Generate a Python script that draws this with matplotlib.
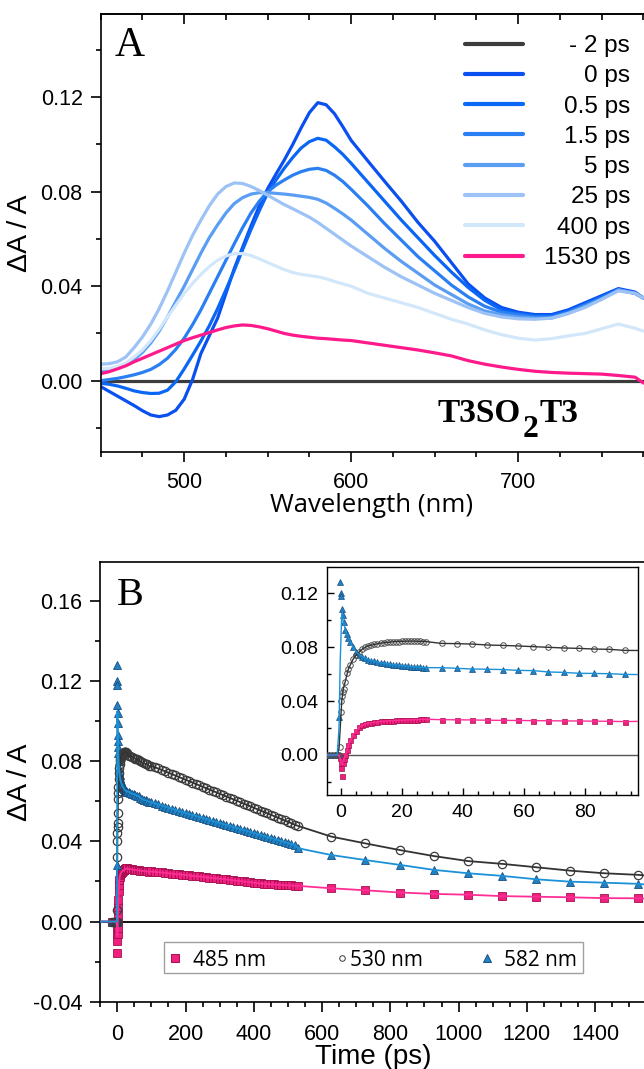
import numpy as np
import matplotlib
matplotlib.use("Agg")
import matplotlib.pyplot as plt
from matplotlib.lines import Line2D
from matplotlib.patches import Rectangle
from matplotlib.ticker import MultipleLocator, FormatStrFormatter

# ---------------- Panel A data (transient spectra) ----------------
wavelength = [450, 455, 460, 465, 470, 475, 480, 485, 490, 495, 500, 505, 510, 515, 520, 525,
              530, 535, 540, 545, 550, 555, 560, 565, 570, 575, 580, 585, 590, 595, 600,
              610, 620, 630, 640, 650, 660, 670, 680, 690, 700, 710, 720, 730, 740, 750,
              760, 770, 775]
delay_labels = ["- 2 ps", "0 ps", "0.5 ps", "1.5 ps", "5 ps", "25 ps", "400 ps", "1530 ps"]
spec_m2 = [0.000] * 49
spec_0 = [-0.0025, -0.0045, -0.0065, -0.0085, -0.0105, -0.0127, -0.0145, -0.0152, -0.0145,
          -0.0125, -0.0078, 0.0005, 0.0115, 0.0190, 0.0265, 0.0370, 0.0475, 0.0565, 0.0655,
          0.0740, 0.0813, 0.0875, 0.0935, 0.1000, 0.1070, 0.1135, 0.1177, 0.1168, 0.1130,
          0.1075, 0.1017,
          0.0930, 0.0844, 0.0760, 0.0670, 0.0590, 0.0500, 0.0410, 0.0350, 0.0310, 0.0290,
          0.0280, 0.0280, 0.0300, 0.0330, 0.0360, 0.0390, 0.0375, 0.0350]
spec_05 = [-0.0011, -0.0015, -0.0022, -0.0032, -0.0043, -0.0050, -0.0054, -0.0053, -0.0040,
           -0.0004, 0.0050, 0.0108, 0.0168, 0.0232, 0.0305, 0.0385, 0.0468, 0.0555, 0.0640,
           0.0720, 0.0795, 0.0850, 0.0900, 0.0945, 0.0985, 0.1012, 0.1026, 0.1018, 0.0990,
           0.0958, 0.0920,
           0.0840, 0.0760, 0.0680, 0.0605, 0.0530, 0.0460, 0.0395, 0.0340, 0.0300, 0.0285,
           0.0275, 0.0275, 0.0295, 0.0325, 0.0355, 0.0385, 0.0370, 0.0350]
spec_15 = [0.0000, 0.0005, 0.0010, 0.0017, 0.0025, 0.0035, 0.0048, 0.0068, 0.0095, 0.0133,
           0.0180, 0.0237, 0.0300, 0.0370, 0.0440, 0.0510, 0.0580, 0.0648, 0.0710, 0.0760,
           0.0800, 0.0828, 0.0850, 0.0870, 0.0885, 0.0895, 0.0899, 0.0890, 0.0870, 0.0843,
           0.0810,
           0.0740, 0.0665, 0.0595, 0.0525, 0.0465, 0.0405, 0.0355, 0.0315, 0.0290, 0.0280,
           0.0270, 0.0270, 0.0290, 0.0320, 0.0350, 0.0385, 0.0370, 0.0350]
spec_5 = [0.0040, 0.0045, 0.0055, 0.0070, 0.0090, 0.0120, 0.0160, 0.0210, 0.0270, 0.0335,
          0.0400, 0.0470, 0.0540, 0.0605, 0.0660, 0.0710, 0.0750, 0.0775, 0.0790, 0.0796,
          0.0796, 0.0793, 0.0790, 0.0786, 0.0781, 0.0776, 0.0768, 0.0752, 0.0730, 0.0706,
          0.0680,
          0.0620, 0.0560, 0.0505, 0.0455, 0.0405, 0.0365, 0.0325, 0.0295, 0.0280, 0.0270,
          0.0265, 0.0265, 0.0285, 0.0315, 0.0345, 0.0385, 0.0370, 0.0350]
spec_25 = [0.0070, 0.0072, 0.0080, 0.0100, 0.0140, 0.0185, 0.0240, 0.0305, 0.0380, 0.0460,
           0.0540, 0.0615, 0.0680, 0.0740, 0.0790, 0.0822, 0.0837, 0.0835, 0.0822, 0.0805,
           0.0785, 0.0765, 0.0745, 0.0728, 0.0710, 0.0692, 0.0670, 0.0645, 0.0620, 0.0595,
           0.0570,
           0.0525, 0.0480, 0.0440, 0.0405, 0.0370, 0.0340, 0.0310, 0.0285, 0.0270, 0.0262,
           0.0260, 0.0265, 0.0285, 0.0310, 0.0345, 0.0380, 0.0370, 0.0350]
spec_400 = [0.0050, 0.0052, 0.0060, 0.0075, 0.0100, 0.0130, 0.0170, 0.0218, 0.0270, 0.0320,
            0.0370, 0.0412, 0.0450, 0.0483, 0.0510, 0.0528, 0.0538, 0.0538, 0.0530, 0.0516,
            0.0500, 0.0485, 0.0470, 0.0458, 0.0450, 0.0445, 0.0440, 0.0432, 0.0420, 0.0410,
            0.0400,
            0.0370, 0.0350, 0.0330, 0.0310, 0.0285, 0.0260, 0.0240, 0.0215, 0.0195, 0.0180,
            0.0172, 0.0178, 0.0190, 0.0200, 0.0220, 0.0240, 0.0222, 0.0210]
spec_1530 = [0.0030, 0.0038, 0.0050, 0.0063, 0.0080, 0.0095, 0.0110, 0.0125, 0.0140, 0.0155,
             0.0170, 0.0182, 0.0193, 0.0204, 0.0215, 0.0225, 0.0232, 0.0236, 0.0234, 0.0228,
             0.0220, 0.0210, 0.0200, 0.0193, 0.0188, 0.0184, 0.0180, 0.0178, 0.0175, 0.0172,
             0.0170,
             0.0160, 0.0150, 0.0140, 0.0130, 0.0118, 0.0105, 0.0085, 0.0070, 0.0058, 0.0048,
             0.0040, 0.0035, 0.0032, 0.0030, 0.0028, 0.0022, 0.0015, -0.0010]
spec_colors = ["#3c3c3c", "#0a4ff0", "#0a66f5", "#2a7ff2", "#5b9df3", "#9cc2f6", "#d3e7fb", "#ff1a8c"]

# ---------------- Panel B data (kinetics) ----------------
t_pre = [-15, -10, -5, -4, -3, -2, -1.5, -1]
t_early = [-0.6, -0.2, 0, 0.2, 0.4, 0.7, 1, 1.5, 2, 2.5, 3, 4, 5, 6, 7, 8, 9, 10, 11, 12,
           13, 14, 15, 16, 17, 18, 19, 20, 21, 22, 23, 24, 25, 26, 27, 28]
t_mid = [33, 38, 43, 48, 53, 58, 63, 68, 73, 78, 83, 88, 93]
t_dense = [100, 110, 120, 130, 140, 150, 160, 170, 180, 190, 200, 210, 220, 230, 240, 250,
           260, 270, 280, 290, 300, 310, 320, 330, 340, 350, 360, 370, 380, 390, 400, 410,
           420, 430, 440, 450, 460, 470, 480, 490, 500, 510, 520, 530]
t_late = [627, 727, 827, 927, 1027, 1127, 1227, 1327, 1427, 1527]

k485_pre = [0.0, 0.0, 0.0, 0.0, 0.0, 0.0, 0.0, 0.0]
k485_early = [0.0, -0.0025, -0.0062, -0.0099, -0.0155, -0.0060, -0.0030, 0.0000, 0.0035, 0.0075,
              0.0110, 0.0150, 0.0180, 0.0205, 0.0220, 0.0230, 0.0235, 0.0240, 0.0243, 0.0246,
              0.0249, 0.0250, 0.0252, 0.0254, 0.0255, 0.0256, 0.0257, 0.0258, 0.0259, 0.0260,
              0.0261, 0.0262, 0.0263, 0.0264, 0.0265, 0.0265]
k485_mid = [0.0262, 0.0261, 0.0260, 0.0258, 0.0257, 0.0256, 0.0255, 0.0254, 0.0253, 0.0252,
            0.0251, 0.0250, 0.0248]
k485_dense = [0.0250, 0.0248, 0.0246, 0.0245, 0.0243, 0.0241, 0.0239, 0.0237, 0.0236, 0.0234,
              0.0232, 0.0230, 0.0228, 0.0226, 0.0225, 0.0223, 0.0221, 0.0219, 0.0218, 0.0216,
              0.0214, 0.0212, 0.0210, 0.0208, 0.0206, 0.0204, 0.0202, 0.0200, 0.0198, 0.0196,
              0.0194, 0.0192, 0.0190, 0.0189, 0.0188, 0.0186, 0.0185, 0.0184, 0.0183, 0.0182,
              0.0181, 0.0180, 0.0179, 0.0178]
k485_late = [0.0166, 0.0156, 0.0145, 0.0138, 0.0134, 0.0127, 0.0124, 0.0121, 0.0117, 0.0116]

k530_pre = [0.0, 0.0, 0.0, 0.0, 0.0, 0.0, 0.0, 0.0]
k530_early = [0.0, 0.0060, 0.0320, 0.0400, 0.0440, 0.0470, 0.0490, 0.0540, 0.0610, 0.0640,
              0.0670, 0.0710, 0.0740, 0.0765, 0.0785, 0.0800, 0.0810, 0.0815, 0.0820, 0.0825,
              0.0830, 0.0832, 0.0835, 0.0837, 0.0840, 0.0841, 0.0842, 0.0843, 0.0844, 0.0845,
              0.0845, 0.0845, 0.0844, 0.0843, 0.0842, 0.0841]
k530_mid = [0.0828, 0.0826, 0.0823, 0.0816, 0.0813, 0.0809, 0.0804, 0.0799, 0.0794, 0.0791,
            0.0786, 0.0784, 0.0776]
k530_dense = [0.0775, 0.0770, 0.0764, 0.0757, 0.0750, 0.0743, 0.0736, 0.0729, 0.0722, 0.0715,
              0.0708, 0.0701, 0.0694, 0.0687, 0.0680, 0.0673, 0.0666, 0.0659, 0.0652, 0.0645,
              0.0638, 0.0631, 0.0624, 0.0617, 0.0610, 0.0603, 0.0596, 0.0589, 0.0582, 0.0575,
              0.0568, 0.0561, 0.0554, 0.0547, 0.0540, 0.0533, 0.0526, 0.0519, 0.0512, 0.0505,
              0.0498, 0.0491, 0.0484, 0.0477]
k530_late = [0.0424, 0.0390, 0.0357, 0.0327, 0.0302, 0.0288, 0.0271, 0.0254, 0.0241, 0.0233]

k582_pre = [0.0, 0.0, 0.0, 0.0, 0.0, 0.0, 0.0, 0.0]
k582_early = [0.0280, 0.1280, 0.1200, 0.1180, 0.1080, 0.1040, 0.0990, 0.0930, 0.0900, 0.0870,
              0.0840, 0.0800, 0.0765, 0.0745, 0.0730, 0.0718, 0.0708, 0.0700, 0.0695, 0.0690,
              0.0685, 0.0680, 0.0677, 0.0674, 0.0671, 0.0668, 0.0665, 0.0663, 0.0660, 0.0658,
              0.0656, 0.0654, 0.0652, 0.0650, 0.0649, 0.0648]
k582_mid = [0.0648, 0.0643, 0.0638, 0.0636, 0.0634, 0.0628, 0.0626, 0.0616, 0.0613, 0.0606,
            0.0605, 0.0603, 0.0598]
k582_dense = [0.0596, 0.0590, 0.0585, 0.0579, 0.0574, 0.0568, 0.0563, 0.0558, 0.0552, 0.0547,
              0.0542, 0.0537, 0.0532, 0.0527, 0.0522, 0.0517, 0.0512, 0.0507, 0.0502, 0.0497,
              0.0492, 0.0487, 0.0482, 0.0477, 0.0472, 0.0467, 0.0462, 0.0457, 0.0452, 0.0447,
              0.0442, 0.0437, 0.0432, 0.0427, 0.0422, 0.0417, 0.0412, 0.0407, 0.0402, 0.0397,
              0.0392, 0.0387, 0.0382, 0.0366]
k582_late = [0.0332, 0.0307, 0.0283, 0.0258, 0.0241, 0.0228, 0.0211, 0.0199, 0.0194, 0.0188]

# fitted curves: early part (before 5 ps), afterwards the fits follow the data; tail value
fit_t_early = [-50, -1.2, -0.6, -0.2, 0.3, 0.8, 1.5, 2.5, 4]
fit485_early = [0.0, 0.0, 0.0, -0.003, -0.007, -0.004, 0.000, 0.0075, 0.0150]
fit530_early = [0.0, 0.0, 0.005, 0.020, 0.040, 0.049, 0.055, 0.064, 0.071]
fit582_early = [0.0, 0.0, 0.020, 0.070, 0.105, 0.099, 0.093, 0.087, 0.080]
fit_t_end = 1560
fit485_end, fit530_end, fit582_end = 0.0114, 0.0228, 0.0183

legendB_labels = ["485 nm", "530 nm", "582 nm"]

# ---------------- figure ----------------
W, H = 644, 1069
fig = plt.figure(figsize=(W / 100, H / 100), dpi=100)


def fbox(l, t, r, b):
    return [l / W, 1 - b / H, (r - l) / W, (b - t) / H]


SANS = "Liberation Sans"
TICK_FS = 15.5
LW_SP = 1.2

# ----- Panel A -----
axA = fig.add_axes(fbox(100.7, 14.3, 650, 452.3))
spectra = [spec_m2, spec_0, spec_05, spec_15, spec_5, spec_25, spec_400, spec_1530]
for vals, col in zip(spectra, spec_colors):
    axA.plot(wavelength, vals, color=col, lw=2.3, solid_capstyle="round", solid_joinstyle="round")
axA.set_xlim(450, 450 + (650 - 100.7) / 1.67)
axA.set_ylim(-0.0303, 0.1551)
axA.xaxis.set_major_locator(MultipleLocator(100))
axA.xaxis.set_minor_locator(MultipleLocator(25))
axA.yaxis.set_major_locator(MultipleLocator(0.04))
axA.yaxis.set_minor_locator(MultipleLocator(0.02))
axA.yaxis.set_major_formatter(FormatStrFormatter("%.2f"))
axA.spines["right"].set_visible(False)
for s in axA.spines.values():
    s.set_linewidth(LW_SP)
axA.tick_params(which="major", direction="out", length=7, width=LW_SP, labelsize=TICK_FS, pad=6)
axA.tick_params(which="minor", direction="out", length=3.8, width=LW_SP)
axA.tick_params(axis="x", which="major", pad=7)
secA = axA.secondary_xaxis("top")
secA.xaxis.set_major_locator(MultipleLocator(100))
secA.xaxis.set_minor_locator(MultipleLocator(25))
secA.tick_params(which="major", direction="in", length=7.5, width=LW_SP, labeltop=False)
secA.tick_params(which="minor", direction="in", length=4, width=LW_SP)
secA.spines["top"].set_linewidth(LW_SP)
for lab in axA.get_xticklabels() + axA.get_yticklabels():
    lab.set_fontfamily(SANS)

fig.text(372 / W, 1 - 505 / H, "Wavelength (nm)", family="Open Sans", fontsize=18.5,
         ha="center", va="center")
fig.text(20 / W, 1 - 233 / H, "ΔA / A", family=SANS, fontsize=20.5, rotation=90,
         ha="center", va="center")
fig.text(115 / W, 1 - 55.5 / H, "A", family="Liberation Serif", fontsize=30,
         ha="left", va="baseline")

# legend A (manual)
for i, (lab, col) in enumerate(zip(delay_labels, spec_colors)):
    yy = 1 - (43.5 + i * 30.3) / H
    fig.add_artist(Line2D([464.5 / W, 522.5 / W], [yy, yy], color=col, lw=3.0,
                          solid_capstyle="round"))
    fig.text(630 / W, yy, lab, family=SANS, fontsize=17.5, ha="right", va="center_baseline")

# T3SO2T3 label
tsz = 24
t1 = fig.text(438 / W, 1 - 421.7 / H, "T3SO", family="Liberation Serif", weight="bold",
              fontsize=tsz, ha="left", va="baseline")
rend = fig.canvas.get_renderer()
bb1 = t1.get_window_extent(rend)
t2 = fig.text((bb1.x1 + 1) / W, 1 - 436.7 / H, "2", family="Liberation Serif", weight="bold",
              fontsize=tsz * 0.95, ha="left", va="baseline")
bb2 = t2.get_window_extent(rend)
fig.text((bb2.x1 + 1.5) / W, 1 - 421.7 / H, "T3", family="Liberation Serif", weight="bold",
         fontsize=tsz, ha="left", va="baseline")

# ----- Panel B -----
tB = t_pre + t_early + t_mid + t_dense + t_late
k485 = k485_pre + k485_early + k485_mid + k485_dense + k485_late
k530 = k530_pre + k530_early + k530_mid + k530_dense + k530_late
k582 = k582_pre + k582_early + k582_mid + k582_dense + k582_late


def fit_curve(early, data, end):
    ft = list(fit_t_early) + [t for t in tB if t >= 5] + [fit_t_end]
    fv = list(early) + [v for t, v in zip(tB, data) if t >= 5] + [end]
    return ft, fv


fits = [fit_curve(fit485_early, k485, fit485_end),
        fit_curve(fit530_early, k530, fit530_end),
        fit_curve(fit582_early, k582, fit582_end)]

C_PINK_F, C_PINK_E, C_PINK_L = "#f0207f", "#a3104f", "#ff2e96"
C_BLUE_F, C_BLUE_E, C_BLUE_L = "#1f82c4", "#1a4e7e", "#1b91d8"
C_GREY_E, C_GREY_L = "#3a3a3a", "#333333"

axB = fig.add_axes(fbox(100.2, 561.7, 650, 1001.7))
axB.axhline(0, color="black", lw=1.3, zorder=1)
axB.plot(tB, k485, ls="none", marker="s", ms=5.2, mfc=C_PINK_F, mec=C_PINK_E, mew=0.6, zorder=2)
axB.plot(tB, k582, ls="none", marker="^", ms=6.3, mfc=C_BLUE_F, mec=C_BLUE_E, mew=0.6, zorder=3)
axB.plot(tB, k530, ls="none", marker="o", ms=6.0, mfc="none", mec=C_GREY_E, mew=0.9, zorder=4)
axB.plot(*fits[1], color=C_GREY_L, lw=1.3, zorder=5)
axB.plot(*fits[0], color=C_PINK_L, lw=1.3, zorder=5)
axB.plot(*fits[2], color=C_BLUE_L, lw=1.3, zorder=6)
axB.set_xlim(-50, (650 - 116.7) / 0.3417)
axB.set_ylim(-0.04, 0.1796)
axB.xaxis.set_major_locator(MultipleLocator(200))
axB.xaxis.set_minor_locator(MultipleLocator(50))
axB.yaxis.set_major_locator(MultipleLocator(0.04))
axB.yaxis.set_minor_locator(MultipleLocator(0.02))
axB.yaxis.set_major_formatter(FormatStrFormatter("%.2f"))
axB.spines["right"].set_visible(False)
for s in axB.spines.values():
    s.set_linewidth(LW_SP)
axB.tick_params(which="major", direction="out", length=7, width=LW_SP, labelsize=TICK_FS, pad=6)
axB.tick_params(which="minor", direction="out", length=3.8, width=LW_SP)
axB.tick_params(axis="x", which="major", pad=9)
for lab in axB.get_xticklabels() + axB.get_yticklabels():
    lab.set_fontfamily(SANS)

fig.text(373 / W, 1 - 1057 / H, "Time (ps)", family=SANS, fontsize=20, ha="center", va="center")
fig.text(20 / W, 1 - 782 / H, "ΔA / A", family=SANS, fontsize=20.5, rotation=90,
         ha="center", va="center")
fig.text(117 / W, 1 - 605 / H, "B", family="Liberation Serif", fontsize=29, ha="left",
         va="baseline")

# legend B (manual)
fig.add_artist(Rectangle((164.4 / W, 1 - 973.3 / H), (583 - 164.4) / W, (973.3 - 942.2) / H,
                         fill=True, facecolor="white", edgecolor="#a0a0a0", lw=1.0))
ly = 1 - 957.8 / H
leg_items = [(174.7, 193, "s", C_PINK_F, C_PINK_E, 5.5),
             (341.5, 350, "o", "none", C_GREY_E, 4.0),
             (486.7, 504, "^", C_BLUE_F, C_BLUE_E, 6.0)]
for (mx, tx, mk, fc, ec, ms), lab in zip(leg_items, legendB_labels):
    fig.add_artist(Line2D([mx / W], [ly], ls="none", marker=mk, ms=ms, mfc=fc, mec=ec, mew=0.7))
    fig.text(tx / W, ly, lab, family="Open Sans", fontsize=15, ha="left", va="center_baseline")

# ----- Inset -----
axI = fig.add_axes(fbox(326.8, 566.7, 637.5, 795.3))
axI.axhline(0, color="#555555", lw=1.0, zorder=1)
axI.plot(tB, k485, ls="none", marker="s", ms=3.6, mfc=C_PINK_F, mec=C_PINK_E, mew=0.5, zorder=2)
axI.plot(tB, k582, ls="none", marker="^", ms=4.6, mfc=C_BLUE_F, mec=C_BLUE_E, mew=0.5, zorder=3)
axI.plot(tB, k530, ls="none", marker="o", ms=4.0, mfc="none", mec="#505050", mew=0.7, zorder=4)
axI.plot(*fits[1], color=C_GREY_L, lw=1.0, zorder=5)
axI.plot(*fits[0], color=C_PINK_L, lw=1.0, zorder=5)
axI.plot(*fits[2], color=C_BLUE_L, lw=1.0, zorder=6)
axI.set_xlim(-4.6, 97.2)
axI.set_ylim(-0.0299, 0.1397)
axI.xaxis.set_major_locator(MultipleLocator(20))
axI.xaxis.set_minor_locator(MultipleLocator(5))
axI.yaxis.set_major_locator(MultipleLocator(0.04))
axI.yaxis.set_minor_locator(MultipleLocator(0.02))
axI.yaxis.set_major_formatter(FormatStrFormatter("%.2f"))
for s in axI.spines.values():
    s.set_linewidth(1.0)
axI.tick_params(which="major", direction="in", length=5, width=1.0, labelsize=14, pad=6)
axI.tick_params(which="minor", direction="in", length=3, width=1.0)
for lab in axI.get_xticklabels() + axI.get_yticklabels():
    lab.set_fontfamily(SANS)

fig.savefig("out.png", dpi=100)
